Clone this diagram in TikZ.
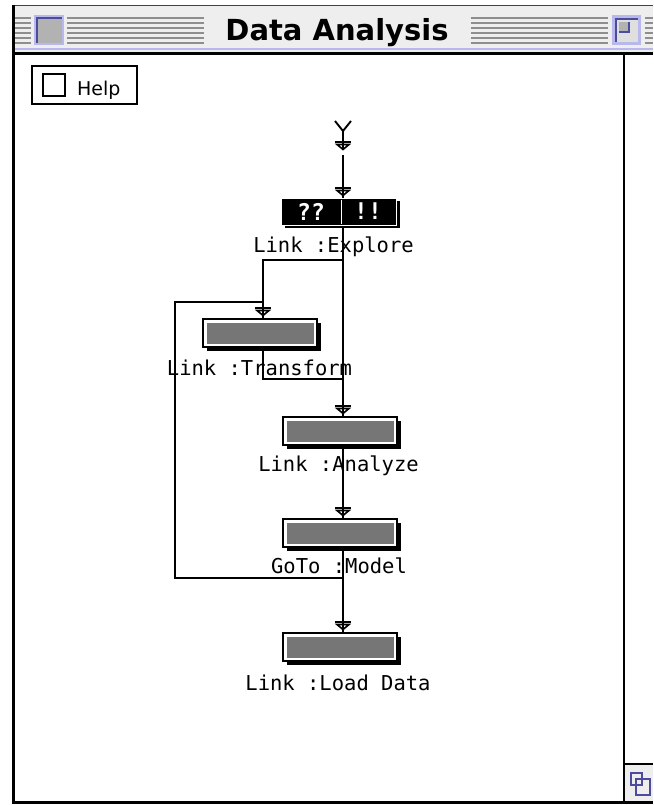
\documentclass[tikz,border=0pt]{standalone}
\usepackage{fontspec}
\setmainfont{DejaVu Sans}
\newfontfamily\monof{DejaVu Sans Mono}
\usetikzlibrary{calc,shadows}
\definecolor{tbar}{HTML}{EEEEEE}
\definecolor{stripe}{HTML}{8E8E8E}
\definecolor{lav}{HTML}{B8B8EC}
\definecolor{boxblue}{HTML}{4C4C9C}
\definecolor{dither}{HTML}{767676}
\tikzset{
  wire/.style={line width=1.9pt},
  lbl/.style={font=\monof\fontsize{20.5}{20.5}\selectfont, inner sep=0pt},
  gbox/.style={draw=black, line width=2pt, fill=white, minimum width=114pt, minimum height=28pt, inner sep=0pt,
    drop shadow={shadow xshift=3.5pt, shadow yshift=-3.5pt, opacity=1, fill=black},
    path picture={\fill[dither] ($(path picture bounding box.south west)+(3.5pt,3.5pt)$) rectangle ($(path picture bounding box.north east)+(-3.5pt,-3.5pt)$);}},
  xbox/.style={draw=white, line width=1pt, fill=black, minimum width=115pt, minimum height=27pt, inner sep=0pt,
    drop shadow={shadow xshift=3pt, shadow yshift=-3pt, opacity=1, fill=black}},
  xtxt/.style={text=white, font=\monof\bfseries\fontsize{23}{23}\selectfont, inner sep=0pt},
  mk/.pic={
    \draw[line width=2pt] (-8,0) -- (8,0);
    \draw[line width=1.6pt, line join=miter] (-6,2.5) -- (6,2.5) -- (0,7.5) -- cycle;
  },
  stripeline/.style={stripe, line width=1.4pt}
}
\begin{document}
\begin{tikzpicture}[x=1pt,y=-1pt]
\useasboundingbox (0,0) rectangle (653,805);
\fill[white] (0,0) rectangle (653,805);
% ---------- title bar ----------
\fill[tbar] (12,5) rectangle (653,52);
\foreach \yy in {18,23,28,33,38,43} {
  \draw[stripeline] (15,\yy) -- (31,\yy);
  \draw[stripeline] (67,\yy) -- (204,\yy);
  \draw[stripeline] (471,\yy) -- (608,\yy);
  \draw[stripeline] (645,\yy) -- (653,\yy);
}
% close box
\fill[lav] (34,15) rectangle (64,45);
\fill[gray!60] (37,18) rectangle (62,43);
\draw[boxblue, line width=2pt] (37,43) -- (37,18) -- (62,18);
% zoom box
\fill[lav] (612,15) rectangle (641,45);
\fill[gray!25] (616,19) rectangle (638,42);
\draw[boxblue, line width=2pt] (616,42) -- (616,19) -- (638,19);
\fill[gray!60] (619,22) rectangle (629,32);
\draw[boxblue, line width=1.5pt] (629,22) -- (629,32) -- (619,32);
\node[font=\bfseries\fontsize{29}{29}\selectfont, anchor=base, inner sep=0pt] (title) at (337,41) {Data Analysis};
% ---------- window frame ----------
\draw[black!75, line width=1.5pt] (12,5.5) -- (653,5.5);
\draw[lav, line width=2pt] (14,49.5) -- (653,49.5);
\draw[black, line width=2.5pt] (12,53.5) -- (653,53.5);
\draw[black, line width=2.5pt] (13.25,5) -- (13.25,803.5);
\draw[black, line width=2.5pt] (12,802.5) -- (653,802.5);
\draw[black, line width=2pt] (624,54) -- (624,802);
\draw[black, line width=2pt] (624,764) -- (653,764);
\fill[tbar] (625,765) rectangle (653,801);
\draw[boxblue, line width=1.6pt] (631,773) rectangle (642,785);
\draw[boxblue, line width=1.6pt] (636,779) rectangle (650,795);
% ---------- help button ----------
\node[draw, line width=2pt, minimum width=105pt, minimum height=38pt, inner sep=0pt] (help) at (84.5,85) {};
\node[draw, line width=2pt, minimum size=22pt, inner sep=0pt] (cb) at (54,85) {};
\node[anchor=base west, inner sep=0pt, font=\fontsize{19}{19}\selectfont] (ht) at (77,96) {Help};
% ---------- coordinates ----------
\coordinate (yl) at (335,121);
\coordinate (yr) at (351,121);
\coordinate (yc) at (343,131);
\coordinate (yb) at (343,150);
\coordinate (ys) at (343,155);
\coordinate (j1) at (343,260);
\coordinate (b1) at (263,260);
\coordinate (l3) at (263,302);
\coordinate (l2) at (175,302);
\coordinate (l1) at (175,578);
\coordinate (j3) at (343,578);
\coordinate (t1) at (263,379);
\coordinate (j2) at (343,379);
% ---------- boxes (positions) ----------
\path (339,211.5) node[xbox] (ex) {};
\path (260,333) node[gbox] (tr) {};
\path (340,431) node[gbox] (an) {};
\path (340,533) node[gbox] (mo) {};
\path (340,647) node[gbox] (ld) {};
% ---------- connectors ----------
\draw[wire] (yl) -- (yc) -- (yr);
\draw[wire] (yc) -- (yb);
\draw[wire] (ys) -- (ys |- ex.north);
\draw[wire] (ys |- ex.south) -- (ys |- an.north);
\draw[wire] (j1) -- (b1) -- (b1 |- tr.north);
\draw[wire] (j3) -- (l1) -- (l2) -- (l3);
\draw[wire] (b1 |- tr.south) -- (t1) -- (j2);
\draw[wire] (ys |- an.south) -- (ys |- mo.north);
\draw[wire] (ys |- mo.south) -- (ys |- ld.north);
% markers
\pic at (343,142) {mk};
\pic at ($(ys |- ex.north)+(0,-9.5)$) {mk};
\pic at ($(b1 |- tr.north)+(0,-10)$) {mk};
\pic at ($(ys |- an.north)+(0,-10)$) {mk};
\pic at ($(ys |- mo.north)+(0,-10)$) {mk};
\pic at ($(ys |- ld.north)+(0,-10)$) {mk};
% ---------- boxes drawn on top ----------
\node[xbox] at (ex) {};
\draw[white, line width=1.5pt] (341.5,199.5) -- (341.5,224);
\node[xtxt] (q) at (311,211.5) {??};
\node[xtxt] (e) at (368,211.5) {!!};
\node[gbox] at (tr) {};
\node[gbox] at (an) {};
\node[gbox] at (mo) {};
\node[gbox] at (ld) {};
% ---------- labels ----------
\node[lbl] (lex) at (333.5,247) {Link :Explore};
\node[lbl] (ltr) at (259.5,368) {Link :Transform};
\node[lbl] (lan) at (338.5,466) {Link :Analyze};
\node[lbl] (lmo) at (339,566) {GoTo :Model};
\node[lbl] (lld) at (338,683) {Link :Load Data};
\end{tikzpicture}
\end{document}
